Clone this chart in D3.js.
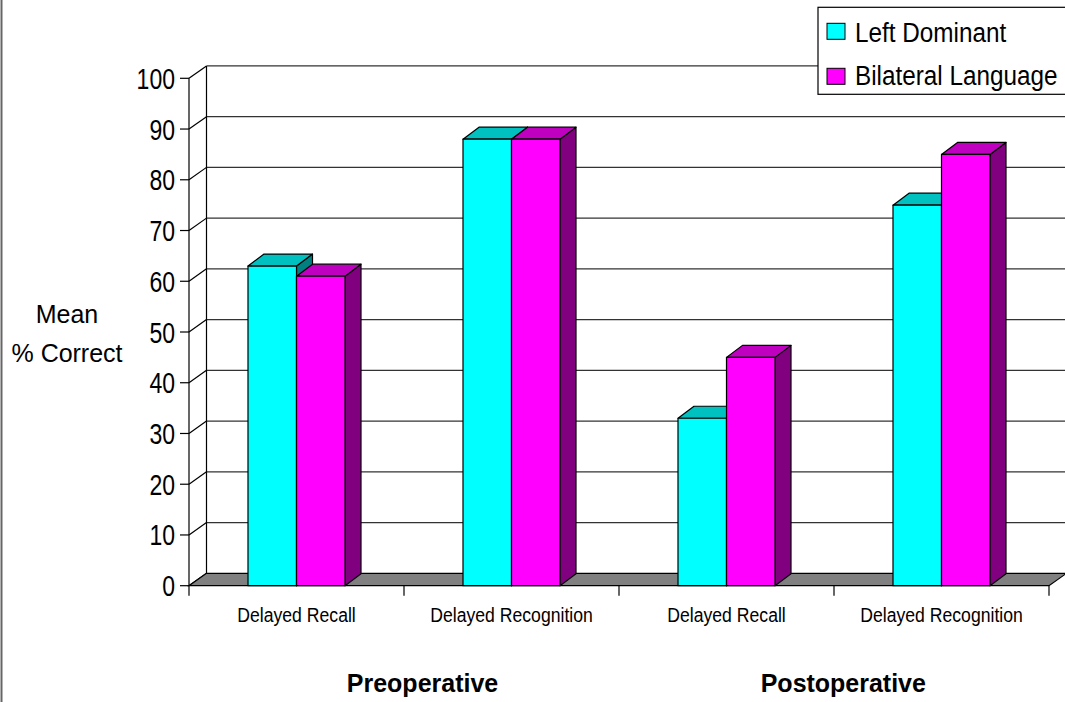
<!DOCTYPE html>
<html><head><meta charset="utf-8">
<script src="https://cdn.jsdelivr.net/npm/d3@7"></script>
<style>html,body{margin:0;padding:0;background:#fff;}svg{display:block;font-family:"Liberation Sans",Arial,sans-serif;}</style>
</head><body>
<svg id="chart" width="1065" height="702"></svg>
<script>
const categories = ["Delayed Recall", "Delayed Recognition", "Delayed Recall", "Delayed Recognition"];
const groups = ["Preoperative", "Postoperative"];
const seriesNames = ["Left Dominant", "Bilateral Language"];
const leftDominant = [63, 88, 33, 75];
const bilateral = [61, 88, 45, 85];
const yTicks = [0, 10, 20, 30, 40, 50, 60, 70, 80, 90, 100];

const svg = d3.select("#chart");
const W = 1065, H = 702;
const DX = 17.5, DY = -12.4;     // depth of floor / walls
const BDX = 16, BDY = -12;       // depth of bars
const colors = [
  {front: "#00FFFF", top: "#00C0C0", side: "#008080"},
  {front: "#FF00FF", top: "#C000C0", side: "#800080"}
];

const y = d3.scaleLinear().domain([0, 100]).range([585.7, 78.3]);
const x0 = d3.scaleBand().domain(d3.range(categories.length)).range([189, 1049]).padding(0);
const bw = x0.bandwidth();
const x1 = d3.scaleBand().domain([0, 1]).range([(bw - 97) / 2, (bw + 97) / 2]).padding(0);

function txt(g, s, xx, yy, size, sx, anchor, weight) {
  return g.append("text").attr("transform", `translate(${xx},${yy}) scale(${sx},1)`)
    .attr("text-anchor", anchor || "middle").attr("font-size", size)
    .attr("font-weight", weight || "normal").attr("fill", "#000").text(s);
}

// left border
svg.append("line").attr("x1", 1.5).attr("x2", 1.5).attr("y1", 0).attr("y2", H).attr("stroke", "#666").attr("stroke-width", 2);

const x0L = x0.range()[0], x0R = x0.range()[1];

// back wall gridlines
const grid = svg.append("g");
yTicks.forEach(t => {
  if (t > 0) {
    grid.append("line").attr("x1", x0L + DX).attr("x2", W + 2).attr("y1", y(t) + DY).attr("y2", y(t) + DY)
      .attr("stroke", "#333").attr("stroke-width", 1.2);
  }
  grid.append("line").attr("x1", x0L).attr("y1", y(t)).attr("x2", x0L + DX).attr("y2", y(t) + DY)
    .attr("stroke", "#000").attr("stroke-width", 1.2);
});
grid.append("line").attr("x1", x0L + DX).attr("x2", x0L + DX).attr("y1", y(100) + DY).attr("y2", y(0) + DY)
  .attr("stroke", "#000").attr("stroke-width", 1.2);

// floor
svg.append("path")
  .attr("d", `M${x0L},${y(0)} L${x0R},${y(0)} L${x0R + DX},${y(0) + DY} L${x0L + DX},${y(0) + DY} Z`)
  .attr("fill", "#808080").attr("stroke", "#000").attr("stroke-width", 1.2);

// front y axis
svg.append("line").attr("x1", x0L).attr("x2", x0L).attr("y1", y(100)).attr("y2", y(0)).attr("stroke", "#000").attr("stroke-width", 1.2);
const yAxisG = svg.append("g");
yTicks.forEach(t => {
  yAxisG.append("line").attr("x1", x0L - 9).attr("x2", x0L).attr("y1", y(t)).attr("y2", y(t)).attr("stroke", "#000").attr("stroke-width", 1.2);
  txt(yAxisG, String(t), 175, y(t) + 10.5, 29.5, 0.78, "end");
});

// category ticks
d3.range(categories.length + 1).forEach(i => {
  const xx = i < categories.length ? x0(i) : x0R;
  svg.append("line").attr("x1", xx).attr("x2", xx).attr("y1", y(0)).attr("y2", y(0) + 10).attr("stroke", "#000").attr("stroke-width", 1.2);
});

// bars
const seriesData = [leftDominant, bilateral];
const barsG = svg.append("g");
categories.forEach((c, i) => {
  [0, 1].forEach(s => {
    const v = seriesData[s][i];
    const xl = x0(i) + x1(s), xr = xl + x1.bandwidth();
    const yt = y(v), yb = y(0);
    const col = colors[s];
    const g = barsG.append("g").attr("stroke", "#000").attr("stroke-width", 1.2).attr("stroke-linejoin", "round");
    g.append("path").attr("d", `M${xr},${yb} L${xr + BDX},${yb + BDY} L${xr + BDX},${yt + BDY} L${xr},${yt} Z`).attr("fill", col.side);
    g.append("path").attr("d", `M${xl},${yt} L${xr},${yt} L${xr + BDX},${yt + BDY} L${xl + BDX},${yt + BDY} Z`).attr("fill", col.top);
    g.append("rect").attr("x", xl).attr("y", yt).attr("width", xr - xl).attr("height", yb - yt).attr("fill", col.front);
  });
});

// category labels
categories.forEach((c, i) => {
  txt(svg, c, x0(i) + bw / 2, 621.7, 21, 0.84, "middle");
});

// group labels
txt(svg, groups[0], 422.5, 691.7, 25.5, 0.98, "middle", "bold");
txt(svg, groups[1], 843.3, 691.7, 25.5, 0.98, "middle", "bold");

// y axis title
txt(svg, "Mean", 67, 323.3, 25.5, 0.98, "middle");
txt(svg, "% Correct", 67, 361.7, 25.5, 0.98, "middle");

// legend
const lg = svg.append("g");
lg.append("rect").attr("x", 818).attr("y", 7.3).attr("width", 260).attr("height", 87).attr("fill", "#fff").attr("stroke", "#000").attr("stroke-width", 1.2);
seriesNames.forEach((n, i) => {
  const yy = 23.3 + i * 45;
  lg.append("rect").attr("x", 827).attr("y", yy).attr("width", 18).attr("height", 16).attr("fill", colors[i].front).attr("stroke", "#000").attr("stroke-width", 1);
  txt(lg, n, 855, 42.3 + i * 42.7, 27, 0.9, "start");
});
</script>
</body></html>
